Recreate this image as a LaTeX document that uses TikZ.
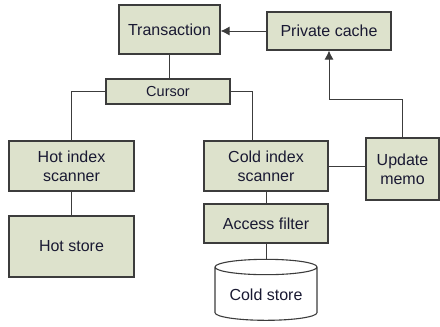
\documentclass[tikz,border=0pt]{standalone}
\usepackage{fontspec}
\setmainfont{Liberation Sans}
\usetikzlibrary{shapes.geometric,arrows.meta}
\definecolor{boxfill}{RGB}{221,226,204}
\definecolor{boxline}{RGB}{60,60,60}
\definecolor{boxtext}{RGB}{25,25,50}

\begin{document}
\begin{tikzpicture}[x=1pt,y=-1pt]
\tikzstyle{box}=[draw=boxline, fill=boxfill, text=boxtext, line width=1.1pt, align=center, inner sep=2pt, font=\fontsize{16}{19}\selectfont]
\tikzstyle{link}=[draw=boxline, line width=1pt]
\useasboundingbox (0,0) rectangle (440,327);

\node[box, minimum width=101pt, minimum height=49pt] (trans) at (169.5,29.5) {Transaction};
\node[box, minimum width=124pt, minimum height=38pt] (cache) at (329,31) {Private cache};
\node[box, minimum width=124pt, minimum height=25pt, font=\fontsize{14.5}{17}\selectfont] (cursor) at (168,91.5) {Cursor};
\node[box, minimum width=125pt, minimum height=50pt] (hotidx) at (71.5,166) {Hot index\\scanner};
\node[box, minimum width=125pt, minimum height=61pt] (hotstore) at (71.5,246.5) {Hot store};
\node[box, minimum width=124pt, minimum height=50pt] (coldidx) at (266,166) {Cold index\\scanner};
\node[box, minimum width=124pt, minimum height=39pt] (filter) at (266,223.5) {Access filter};
\node[box, fill=white, cylinder, shape border rotate=90, aspect=0.2, minimum width=102pt, minimum height=61pt] (coldstore) at (266,295) {Cold store};
\node[box, minimum width=73pt, minimum height=62pt] (memo) at (402.5,169) {Update\\memo};

% connectors
\draw[link, -{Latex[length=9pt,width=9pt]}] (cache.west) -- (cache.west -| trans.east);
\draw[link] (trans.south) -- (trans.south |- cursor.north);
\draw[link] (cursor.west) -| (hotidx.north);
\draw[link] (cursor.east) -| ([xshift=-14pt]coldidx.north);
\draw[link] (hotidx.south) -- (hotstore.north);
\draw[link] (coldidx.south) -- (filter.north);
\draw[link] (filter.south) -- (coldstore.top);
\draw[link] (coldidx.east) -- (coldidx.east -| memo.west);
\draw[link, -{Latex[length=9pt,width=9pt]}] (memo.north) -- ++(0,-38) -| (cache.south);

\end{tikzpicture}
\end{document}
